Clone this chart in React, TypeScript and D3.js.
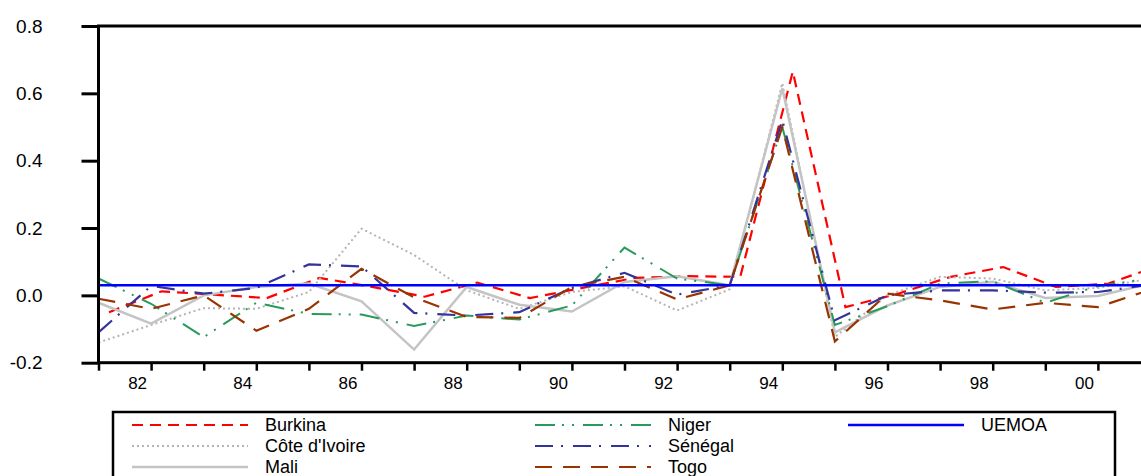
import { useRef, useEffect } from "react";
import * as d3 from "d3";

// observation years (annual, 1981-2001)
const years = [1981, 1982, 1983, 1984, 1985, 1986, 1987, 1988, 1989, 1990, 1991, 1992, 1993, 1994, 1995, 1996, 1997, 1998, 1999, 2000, 2001];
// Burkina's series is plotted a bit later in each year in the source chart
const burkinaLag = 0.2;

const burkina = [-0.05, 0.012, 0.002, -0.008, 0.052, 0.025, -0.004, 0.038, -0.008, 0.022, 0.052, 0.057, 0.055, 0.665, -0.035, 0.005, 0.055, 0.084, 0.025, 0.035, 0.09];
const coteIvoire = [-0.14, -0.088, -0.038, -0.04, 0.01, 0.198, 0.12, 0.015, -0.04, 0.01, 0.027, -0.045, 0.018, 0.63, -0.124, 0.0, 0.055, 0.05, 0.015, 0.022, 0.05];
const mali = [-0.022, -0.084, 0.0, 0.025, 0.035, -0.018, -0.161, 0.025, -0.028, -0.048, 0.04, 0.057, 0.03, 0.615, -0.11, -0.03, 0.025, 0.04, -0.008, -0.002, 0.035];
const niger = [0.05, -0.025, -0.124, -0.022, -0.055, -0.057, -0.091, -0.06, -0.072, -0.03, 0.142, 0.05, 0.03, 0.5, -0.088, -0.032, 0.035, 0.042, -0.022, 0.028, 0.05];
const senegal = [-0.11, 0.028, 0.005, 0.022, 0.092, 0.086, -0.052, -0.06, -0.05, 0.022, 0.067, 0.002, 0.03, 0.52, -0.074, 0.0, 0.015, 0.015, 0.008, 0.01, 0.032];
const togo = [-0.01, -0.04, 0.0, -0.105, -0.04, 0.079, -0.006, -0.064, -0.067, 0.025, 0.055, -0.012, 0.03, 0.5, -0.137, 0.005, -0.015, -0.042, -0.022, -0.035, 0.017];
const uemoa = [0.03, 0.03, 0.03, 0.03, 0.03, 0.03, 0.03, 0.03, 0.03, 0.03, 0.03, 0.03, 0.03, 0.03, 0.03, 0.03, 0.03, 0.03, 0.03, 0.03, 0.03];

const yTicks = [-0.2, 0.0, 0.2, 0.4, 0.6, 0.8];

interface Series { name: string; values: number[]; lag: number; color: string; dash: string; width: number; col: number; row: number; }

const series: Series[] = [
  { name: "Burkina", values: burkina, lag: burkinaLag, color: "#ff0000", dash: "11,7", width: 2.2, col: 0, row: 0 },
  { name: "Côte d'Ivoire", values: coteIvoire, lag: 0, color: "#b4b4b4", dash: "2,3", width: 2, col: 0, row: 1 },
  { name: "Mali", values: mali, lag: 0, color: "#c4c4c4", dash: "", width: 2.5, col: 0, row: 2 },
  { name: "Niger", values: niger, lag: 0, color: "#2a9a5a", dash: "20,7,2,8,2,9", width: 2, col: 1, row: 0 },
  { name: "Sénégal", values: senegal, lag: 0, color: "#333399", dash: "18,8,2,10", width: 2.2, col: 1, row: 1 },
  { name: "Togo", values: togo, lag: 0, color: "#993300", dash: "17,11", width: 2.2, col: 1, row: 2 },
  { name: "UEMOA", values: uemoa, lag: 0, color: "#0000ff", dash: "", width: 2.5, col: 2, row: 0 },
];

export default function App() {
  const ref = useRef<SVGSVGElement>(null);
  useEffect(() => {
    if (!ref.current) return;
    const svg = d3.select(ref.current);
    svg.selectAll("*").remove();
    const font = "'Liberation Sans', Arial, Helvetica, sans-serif";
    const left = 98.5, top = 26, bottom = 362.7;
    const x = d3.scaleLinear().domain([1981, 2001]).range([left, 1150.5]);
    const y = d3.scaleLinear().domain([-0.2, 0.8]).range([bottom, top]);

    const line = d3.line<[number, number]>().x(d => x(d[0])).y(d => y(d[1]));
    const g = svg.append("g");
    series.forEach(s => {
      g.append("path")
        .datum(years.map((yr, i) => [yr + s.lag, s.values[i]] as [number, number]))
        .attr("d", line).attr("fill", "none").attr("stroke", s.color)
        .attr("stroke-width", s.width).attr("stroke-dasharray", s.dash || null)
        .attr("stroke-linejoin", "miter");
    });

    // y axis (plain hyphen for the minus sign, as in the source)
    const fmt = d3.format(".1f");
    const ya = svg.append("g").attr("transform", `translate(${left},0)`)
      .call(d3.axisLeft(y).tickValues(yTicks).tickSize(17).tickPadding(39)
        .tickFormat(d => fmt(+d).replace("\u2212", "-")));
    ya.select(".domain").remove();
    ya.selectAll(".tick line").attr("stroke", "#000").attr("stroke-width", 3);
    ya.selectAll("text").attr("font-size", 19).attr("font-family", font).attr("fill", "#000");

    // x axis
    const xa = svg.append("g").attr("transform", `translate(0,${bottom})`)
      .call(d3.axisBottom(x).tickValues(years).tickSize(8).tickPadding(6)
        .tickFormat(d => (+d % 2 === 0 ? String(d).slice(2) : "")));
    xa.select(".domain").remove();
    xa.selectAll(".tick line").attr("stroke", "#000").attr("stroke-width", 2.5);
    xa.selectAll("text").attr("font-size", 17).attr("font-family", font).attr("fill", "#000").attr("dx", -14);

    // frame
    svg.append("rect").attr("x", left).attr("y", top).attr("width", x(2001) - left).attr("height", bottom - top)
      .attr("fill", "none").attr("stroke", "#000").attr("stroke-width", 3);

    // legend
    const lg = svg.append("g");
    lg.append("rect").attr("x", 113).attr("y", 412).attr("width", 1002).attr("height", 90)
      .attr("fill", "none").attr("stroke", "#000").attr("stroke-width", 2.5);
    const colX = [132, 535, 848];
    const rowY = [425, 446, 467];
    series.forEach(s => {
      const lx = colX[s.col], ly = rowY[s.row];
      lg.append("line").attr("x1", lx).attr("x2", lx + 116).attr("y1", ly).attr("y2", ly)
        .attr("stroke", s.color).attr("stroke-width", s.width).attr("stroke-dasharray", s.dash || null);
      lg.append("text").attr("x", lx + 133).attr("y", ly).attr("dy", "0.35em")
        .attr("font-size", 18).attr("font-family", font).attr("fill", "#000").text(s.name);
    });
  }, []);

  return (
    <svg ref={ref} width={1141} height={476}
      style={{ position: "absolute", left: 0, top: 0, background: "#fff", display: "block" }} />
  );
}
